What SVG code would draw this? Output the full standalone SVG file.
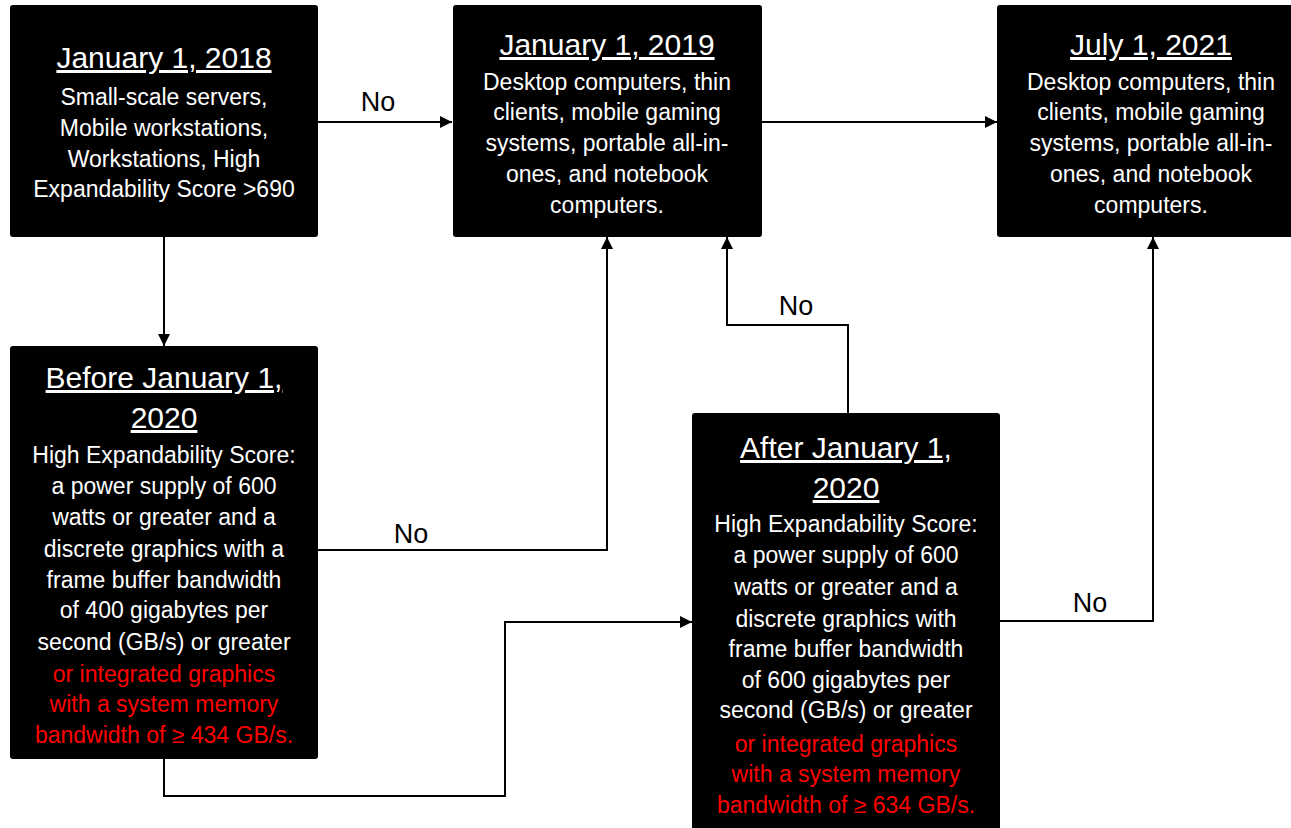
<svg xmlns="http://www.w3.org/2000/svg" width="1291" height="828" viewBox="0 0 1291 828">
<style>
.box{fill:#000}
.h{font-family:"Liberation Sans",Arial,sans-serif;font-size:30px;fill:#fff;text-anchor:middle;text-decoration:underline}
.t{font-family:"Liberation Sans",Arial,sans-serif;font-size:23px;fill:#fff;text-anchor:middle}
.r{fill:#ff0000}
.lbl{font-family:"Liberation Sans",Arial,sans-serif;font-size:27px;fill:#000;text-anchor:middle}
.c{fill:none;stroke:#000;stroke-width:2}
</style>
<defs>
<marker id="ah" viewBox="0 0 10 10" refX="10" refY="5" markerWidth="6" markerHeight="6" markerUnits="strokeWidth" orient="auto">
<path d="M0,0 L10,5 L0,10 Z" fill="#000"/>
</marker>
</defs>
<rect width="1291" height="828" fill="#fff"/>
<g id="connectors">
<path class="c" d="M318,122 H452" marker-end="url(#ah)"/>
<path class="c" d="M762,122 H997" marker-end="url(#ah)"/>
<path class="c" d="M164,237 V346" marker-end="url(#ah)"/>
<path class="c" d="M318,550 H607 V237" marker-end="url(#ah)"/>
<path class="c" d="M164,759 V796 H505 V622 H692" marker-end="url(#ah)"/>
<path class="c" d="M848,413 V325 H727 V237" marker-end="url(#ah)"/>
<path class="c" d="M1000,621 H1153 V237" marker-end="url(#ah)"/>
<text class="lbl" x="378" y="111">No</text>
<text class="lbl" x="411" y="543">No</text>
<text class="lbl" x="796" y="315">No</text>
<text class="lbl" x="1090" y="612">No</text>
</g>
<g id="n2018">
<rect class="box" x="10" y="5" width="308" height="232" rx="3"/>
<text class="h" x="164" y="68">January 1, 2018</text>
<text class="t" x="164" y="105">Small-scale servers,</text>
<text class="t" x="164" y="136">Mobile workstations,</text>
<text class="t" x="164" y="167">Workstations, High</text>
<text class="t" x="164" y="197">Expandability Score &gt;690</text>
</g>
<g id="n2019">
<rect class="box" x="453" y="5" width="309" height="232" rx="3"/>
<text class="h" x="607" y="55">January 1, 2019</text>
<text class="t" x="607" y="90">Desktop computers, thin</text>
<text class="t" x="607" y="120">clients, mobile gaming</text>
<text class="t" x="607" y="151">systems, portable all-in-</text>
<text class="t" x="607" y="182">ones, and notebook</text>
<text class="t" x="607" y="213">computers.</text>
</g>
<g id="n2021">
<rect class="box" x="997" y="5" width="310" height="232" rx="3"/>
<text class="h" x="1151" y="55">July 1, 2021</text>
<text class="t" x="1151" y="90">Desktop computers, thin</text>
<text class="t" x="1151" y="120">clients, mobile gaming</text>
<text class="t" x="1151" y="151">systems, portable all-in-</text>
<text class="t" x="1151" y="182">ones, and notebook</text>
<text class="t" x="1151" y="213">computers.</text>
</g>
<g id="nBefore">
<rect class="box" x="10" y="346" width="308" height="413" rx="3"/>
<text class="h" x="164" y="388">Before January 1,</text>
<text class="h" x="164" y="428">2020</text>
<text class="t" x="164" y="463">High Expandability Score:</text>
<text class="t" x="164" y="494">a power supply of 600</text>
<text class="t" x="164" y="525">watts or greater and a</text>
<text class="t" x="164" y="557">discrete graphics with a</text>
<text class="t" x="164" y="588">frame buffer bandwidth</text>
<text class="t" x="164" y="618">of 400 gigabytes per</text>
<text class="t" x="164" y="650">second (GB/s) or greater</text>
<text class="t r" x="164" y="682">or integrated graphics</text>
<text class="t r" x="164" y="712">with a system memory</text>
<text class="t r" x="164" y="743">bandwidth of ≥ 434 GB/s.</text>
</g>
<g id="nAfter">
<rect class="box" x="692" y="413" width="308" height="420" rx="3"/>
<text class="h" x="846" y="458">After January 1,</text>
<text class="h" x="846" y="498">2020</text>
<text class="t" x="846" y="532">High Expandability Score:</text>
<text class="t" x="846" y="563">a power supply of 600</text>
<text class="t" x="846" y="595">watts or greater and a</text>
<text class="t" x="846" y="627">discrete graphics with</text>
<text class="t" x="846" y="657">frame buffer bandwidth</text>
<text class="t" x="846" y="688">of 600 gigabytes per</text>
<text class="t" x="846" y="718">second (GB/s) or greater</text>
<text class="t r" x="846" y="752">or integrated graphics</text>
<text class="t r" x="846" y="782">with a system memory</text>
<text class="t r" x="846" y="813">bandwidth of ≥ 634 GB/s.</text>
</g>
</svg>
